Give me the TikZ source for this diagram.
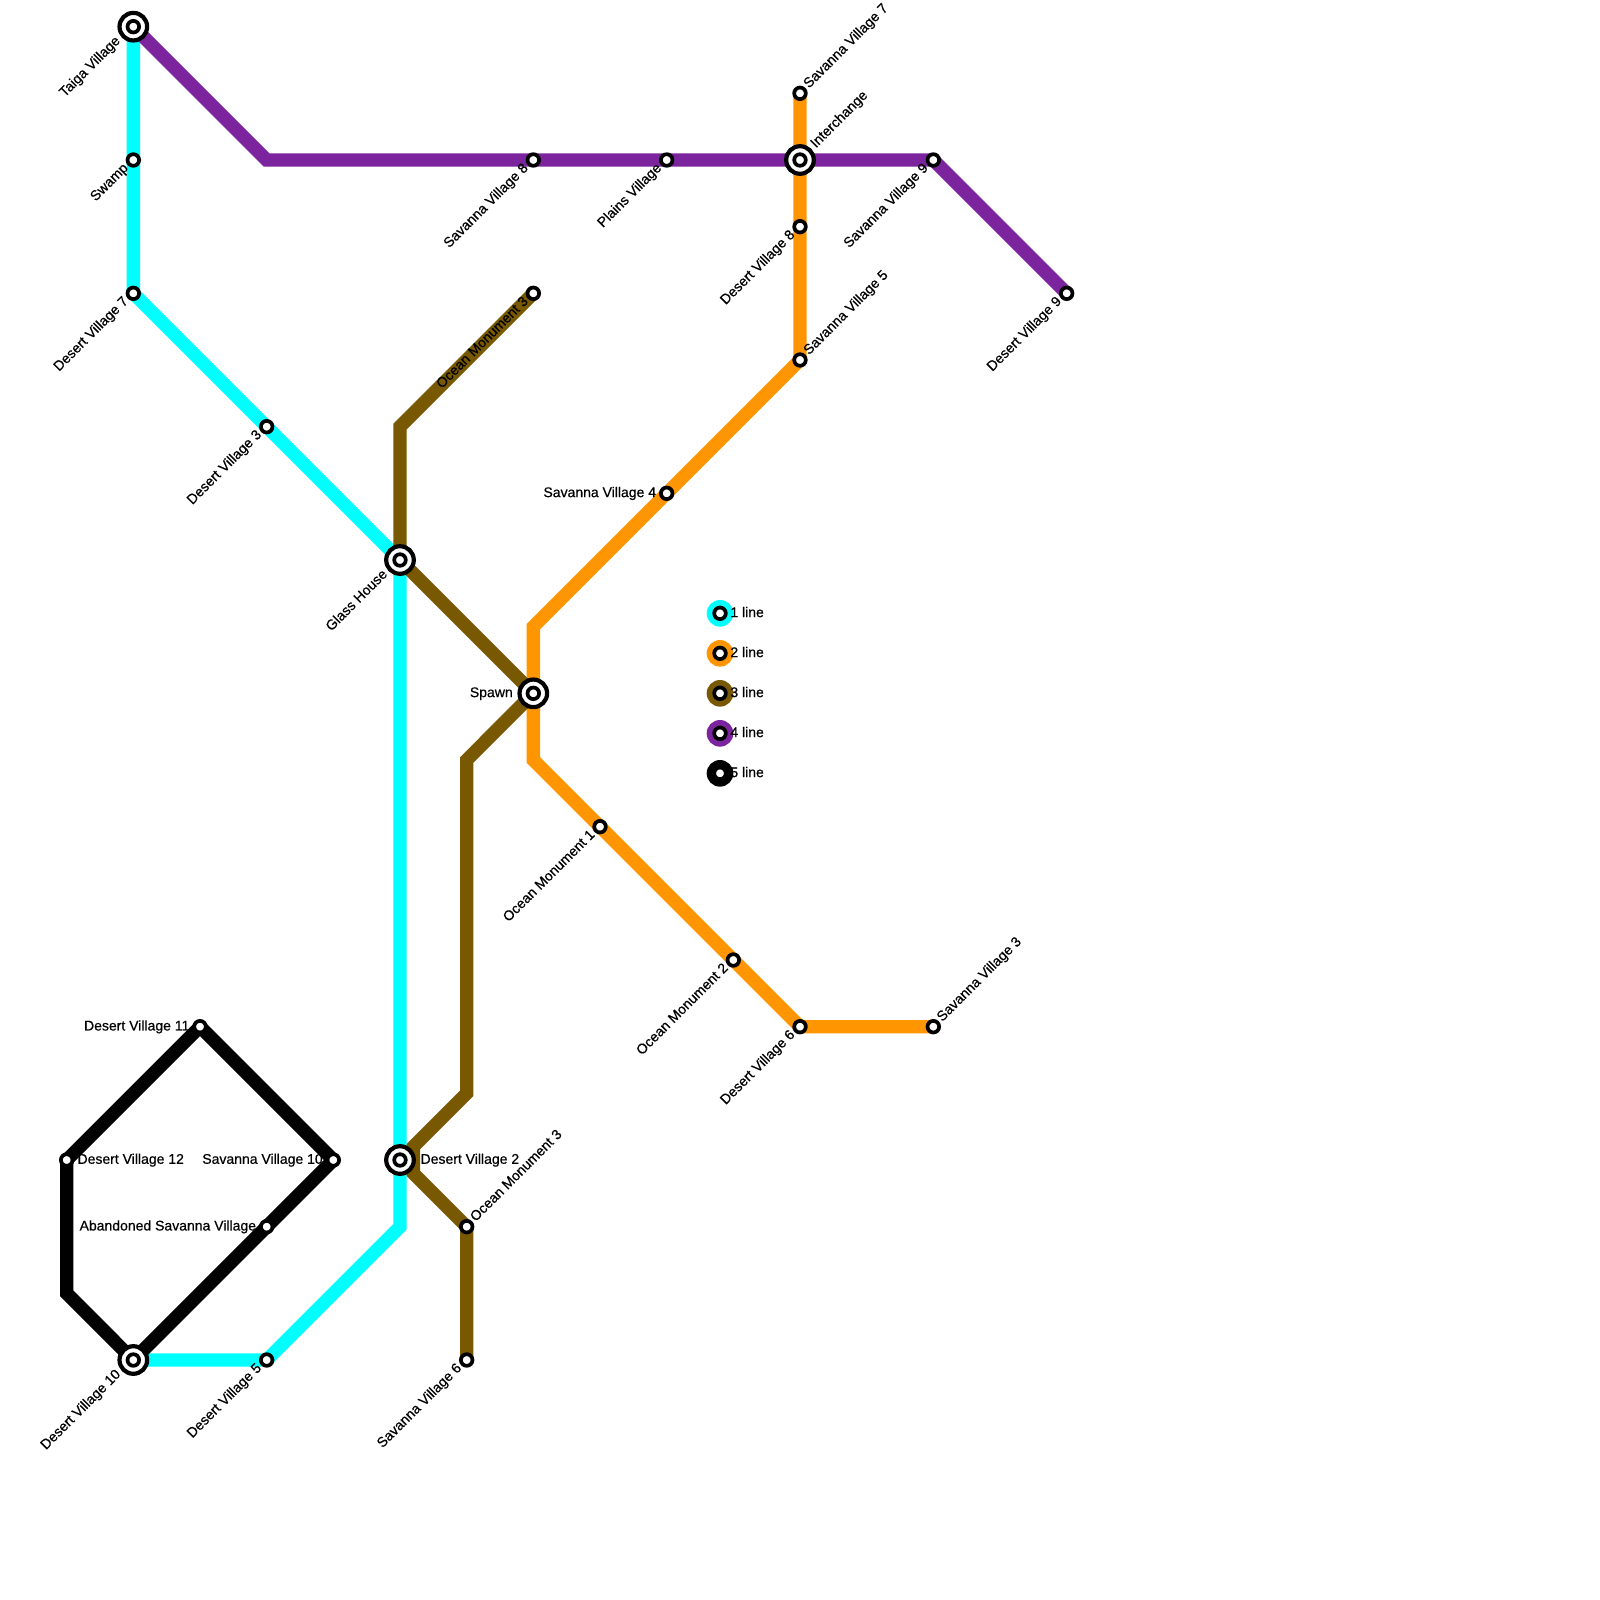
\documentclass[tikz,border=0pt]{standalone}
\usepackage{fontspec}
\setmainfont[FakeBold=0.5]{Liberation Sans}
\definecolor{lcyan}{HTML}{00FFFF}
\definecolor{lorange}{HTML}{FF9500}
\definecolor{lbrown}{HTML}{785800}
\definecolor{lpurple}{HTML}{7B249D}
\tikzset{
  metro/.style={line width=6.67pt,line join=miter,miter limit=10},
  ring/.style={circle,draw=black,fill=white,line width=1.85pt,minimum size=5.8pt,inner sep=0pt},
  hub/.style={circle,draw=black,fill=white,line width=2.1pt,minimum size=13.8pt,inner sep=0pt},
  key/.style={circle,minimum size=13.33pt,inner sep=0pt},
  lab/.style={font=\fontsize{7pt}{8pt}\selectfont,inner sep=0pt,text=black},
  ll/.style={lab,rotate=45,anchor=mid east},
  ur/.style={lab,rotate=45,anchor=mid west},
  rt/.style={lab,anchor=mid west},
  lt/.style={lab,anchor=mid east},
}
\begin{document}
\begin{tikzpicture}[x=0.5pt,y=-0.5pt]
\useasboundingbox (0,0) rectangle (1600,1600);
% stations
\coordinate (taiga) at (133.33,26.67);
\coordinate (swamp) at (133.33,160);
\coordinate (dv7) at (133.33,293.33);
\coordinate (dv3) at (266.67,426.67);
\coordinate (glass) at (400,560);
\coordinate (dv2) at (400,1160);
\coordinate (c1) at (400,1226.67);
\coordinate (dv5) at (266.67,1360);
\coordinate (dv10) at (133.33,1360);
\coordinate (sv7) at (800,93.33);
\coordinate (inter) at (800,160);
\coordinate (dv8) at (800,226.67);
\coordinate (sv5) at (800,360);
\coordinate (sv4) at (666.67,493.33);
\coordinate (o1) at (533.33,626.67);
\coordinate (spawn) at (533.33,693.33);
\coordinate (o2) at (533.33,760);
\coordinate (om1) at (600,826.67);
\coordinate (om2) at (733.33,960);
\coordinate (dv6) at (800,1026.67);
\coordinate (sv3) at (933.33,1026.67);
\coordinate (om3a) at (533.33,293.33);
\coordinate (b1) at (400,426.67);
\coordinate (b2) at (466.67,760);
\coordinate (b3) at (466.67,1093.33);
\coordinate (b4) at (413.33,1146.67);
\coordinate (b5) at (413.33,1173.33);
\coordinate (om3b) at (466.67,1226.67);
\coordinate (sv6) at (466.67,1360);
\coordinate (p1) at (266.67,160);
\coordinate (sv8) at (533.33,160);
\coordinate (plains) at (666.67,160);
\coordinate (sv9) at (933.33,160);
\coordinate (dv9) at (1066.67,293.33);
\coordinate (aband) at (266.67,1226.67);
\coordinate (sv10) at (333.33,1160);
\coordinate (dv11) at (200,1026.67);
\coordinate (dv12) at (66.67,1160);
\coordinate (k1) at (66.67,1293.33);
% lines, broken at stations
\draw[metro,lcyan] (taiga)--(swamp) (swamp)--(dv7) (dv7)--(dv3) (dv3)--(glass) (glass)--(dv2) (dv2)--(c1)--(dv5) (dv5)--(dv10);
\draw[metro,lorange] (sv7)--(inter) (inter)--(dv8) (dv8)--(sv5) (sv5)--(sv4) (sv4)--(o1)--(spawn) (spawn)--(o2)--(om1) (om1)--(om2) (om2)--(dv6) (dv6)--(sv3);
\draw[metro,lbrown] (om3a)--(b1)--(glass) (glass)--(spawn) (spawn)--(b2)--(b3)--(b4)--(b5)--(om3b) (om3b)--(sv6);
\draw[metro,lpurple] (taiga)--(p1)--(sv8) (sv8)--(plains) (plains)--(inter) (inter)--(sv9) (sv9)--(dv9);
\draw[metro,black] (dv10)--(aband) (aband)--(sv10) (sv10)--(dv11) (dv11)--(dv12) (dv12)--(k1)--(dv10);
% station symbols
\foreach \s/\n in {swamp/a,dv7/b,dv3/c,dv5/d,sv7/e,dv8/f,sv5/g,sv4/h,om1/i,om2/j,dv6/k,sv3/l,om3a/m,om3b/n,sv6/o,sv8/p,plains/q,sv9/r,dv9/s,aband/t,sv10/u,dv11/v,dv12/w}
  \node[ring] (st\n) at (\s) {};
\foreach \s/\n in {taiga/a,glass/b,dv2/c,dv10/d,inter/e,spawn/f}{
  \node[hub] (hub\n) at (\s) {};
  \node[ring] (hubin\n) at (\s) {};
}
% legend
\foreach \c/\y/\t/\n in {lcyan/613.33/1 line/a,lorange/653.33/2 line/b,lbrown/693.33/3 line/c,lpurple/733.33/4 line/d,black/773.33/5 line/e}{
  \node[key,fill=\c] (key\n) at (720,\y) {};
  \node[ring] (keyin\n) at (720,\y) {};
  \node[rt] (keylab\n) at (730,\y-1.5) {\t};
}
% labels lower-left
\node[ll] (l1) at ([shift={(-16,11)}]taiga) {Taiga Village};
\node[ll] (l2) at ([shift={(-8,4.8)}]swamp) {Swamp};
\node[ll] (l3) at ([shift={(-8,4.8)}]dv7) {Desert Village 7};
\node[ll] (l4) at ([shift={(-8,4.8)}]dv3) {Desert Village 3};
\node[ll] (l5) at ([shift={(-15.5,11)}]glass) {Glass House};
\node[ll] (l6) at ([shift={(-15.5,11)}]dv10) {Desert Village 10};
\node[ll] (l7) at ([shift={(-8,4.8)}]dv5) {Desert Village 5};
\node[ll] (l8) at ([shift={(-8,4.8)}]sv6) {Savanna Village 6};
\node[ll] (l9) at ([shift={(-8,4.8)}]sv8) {Savanna Village 8};
\node[ll] (l10) at ([shift={(-8,4.8)}]plains) {Plains Village};
\node[ll] (l11) at ([shift={(-8,4.8)}]dv8) {Desert Village 8};
\node[ll] (l12) at ([shift={(-8,4.8)}]sv9) {Savanna Village 9};
\node[ll] (l13) at ([shift={(-8,4.8)}]dv9) {Desert Village 9};
\node[ll] (l14) at ([shift={(-8,4.8)}]om3a) {Ocean Monument 3};
\node[ll] (l15) at ([shift={(-8,4.8)}]om1) {Ocean Monument 1};
\node[ll] (l16) at ([shift={(-8,4.8)}]om2) {Ocean Monument 2};
\node[ll] (l17) at ([shift={(-8,4.8)}]dv6) {Desert Village 6};
% labels upper-right
\node[ur] (l18) at ([shift={(5,-8)}]sv7) {Savanna Village 7};
\node[ur] (l19) at ([shift={(12,-15)}]inter) {Interchange};
\node[ur] (l20) at ([shift={(5,-8)}]sv5) {Savanna Village 5};
\node[ur] (l21) at ([shift={(5,-8)}]sv3) {Savanna Village 3};
\node[ur] (l22) at ([shift={(5,-8)}]om3b) {Ocean Monument 3};
% labels horizontal
\node[rt] (l23) at ([shift={(20.2,-1.5)}]dv2) {Desert Village 2};
\node[rt] (l24) at ([shift={(10.5,-1.5)}]dv12) {Desert Village 12};
\node[lt] (l25) at ([shift={(-20.2,-1.5)}]spawn) {Spawn};
\node[lt] (l26) at ([shift={(-10.2,-1.5)}]sv4) {Savanna Village 4};
\node[lt] (l27) at ([shift={(-10.2,-1.5)}]dv11) {Desert Village 11};
\node[lt] (l28) at ([shift={(-10.2,-1.5)}]sv10) {Savanna Village 10};
\node[lt] (l29) at ([shift={(-10.2,-1.5)}]aband) {Abandoned Savanna Village};
\end{tikzpicture}
\end{document}
